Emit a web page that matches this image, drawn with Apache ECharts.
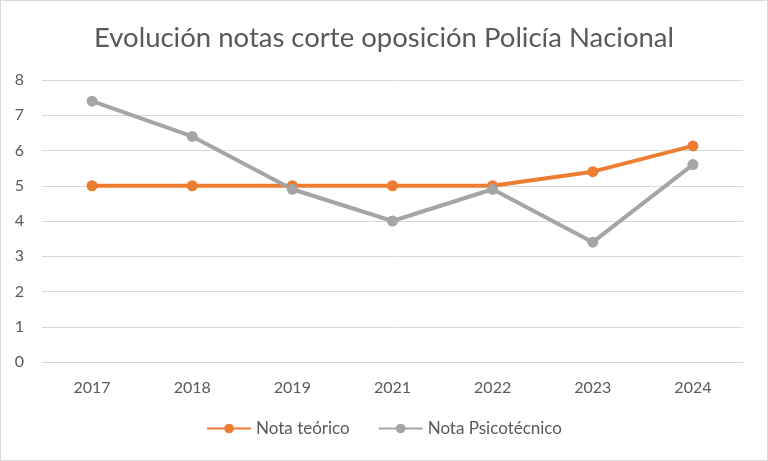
<!DOCTYPE html>
<html><head><meta charset="utf-8">
<script src="https://cdn.jsdelivr.net/npm/echarts@6/dist/echarts.min.js"></script>
<style>html,body{margin:0;padding:0;background:#fff}#c{width:766px;height:459px;border:1px solid #d9d9d9}</style>
</head><body><div id="c"></div>
<script>
const categories = ['2017','2018','2019','2021','2022','2023','2024'];
const notaTeorico = [5, 5, 5, 5, 5, 5.4, 6.13];
const notaPsico = [7.4, 6.4, 4.9, 4.0, 4.9, 3.4, 5.6];
const chart = echarts.init(document.getElementById('c'));
const font = 'Lato, "Open Sans", sans-serif';
chart.setOption({
  animation: false,
  title: {text: 'Evolución notas corte oposición Policía Nacional', left: 'center', top: 18,
    textStyle: {fontFamily: font, fontSize: 27.5, fontWeight: 'normal', color: '#595959'}},
  legend: {bottom: 18, itemGap: 28, itemWidth: 44, itemHeight: 12,
    textStyle: {fontFamily: font, fontSize: 17, color: '#595959'},
    data: ['Nota teórico', 'Nota Psicotécnico']},
  grid: {left: 41, right: 24, top: 79, bottom: 98, containLabel: false},
  xAxis: {type: 'category', data: categories, boundaryGap: true,
    axisLine: {lineStyle: {color: '#d9d9d9'}}, axisTick: {show: false},
    axisLabel: {fontFamily: font, fontSize: 16, color: '#595959', margin: 18}},
  yAxis: {type: 'value', min: 0, max: 8, interval: 1,
    axisLine: {show: false}, axisTick: {show: false},
    axisLabel: {fontFamily: font, fontSize: 16, color: '#595959', margin: 18},
    splitLine: {lineStyle: {color: '#d9d9d9', width: 1}}},
  series: [
    {name: 'Nota teórico', type: 'line', data: notaTeorico, symbol: 'circle', symbolSize: 11,
      itemStyle: {color: '#ed7d31'}, lineStyle: {width: 4, color: '#ed7d31'}},
    {name: 'Nota Psicotécnico', type: 'line', data: notaPsico, symbol: 'circle', symbolSize: 11,
      itemStyle: {color: '#a5a5a5'}, lineStyle: {width: 4, color: '#a5a5a5'}}
  ]
});
</script></body></html>
